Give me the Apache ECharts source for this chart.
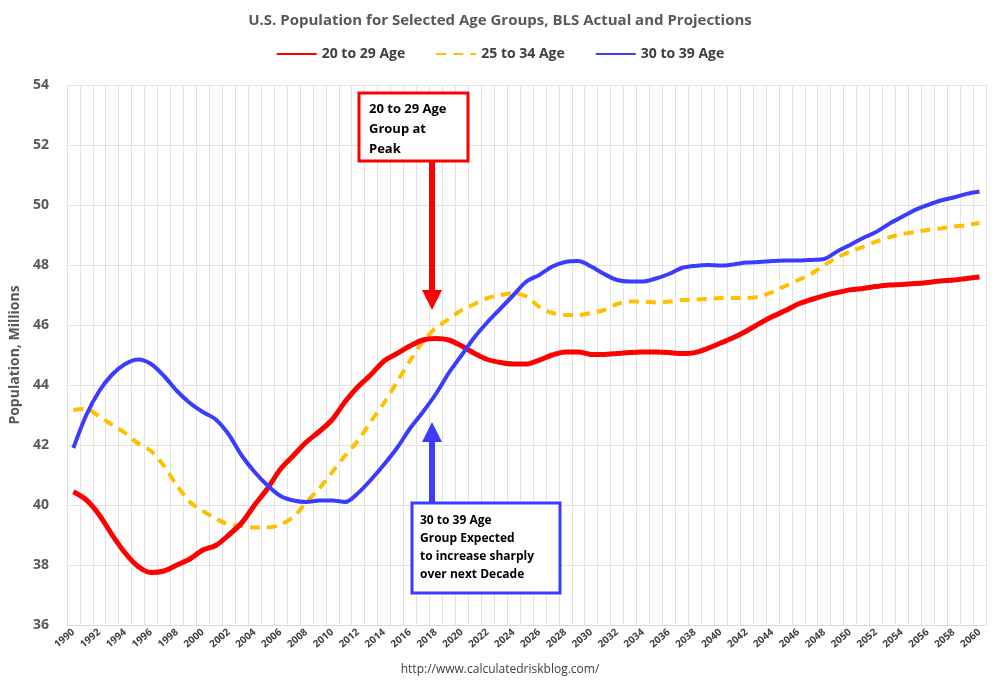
<!DOCTYPE html>
<html>
<head>
<meta charset="utf-8">
<script src="https://cdn.jsdelivr.net/npm/echarts@6/dist/echarts.min.js"></script>
<style>html,body{margin:0;padding:0;background:#fff}#chart{width:1000px;height:690px}</style>
</head>
<body>
<div id="chart"></div>
<script>
var years = [];
for (var y = 1990; y <= 2060; y++) years.push(String(y));

var age20to29 = [40.44,40.17,39.67,39.0,38.4,37.95,37.75,37.8,38.0,38.2,38.5,38.65,39.0,39.4,40.0,40.55,41.2,41.65,42.1,42.45,42.85,43.45,43.95,44.35,44.8,45.05,45.3,45.5,45.55,45.5,45.3,45.05,44.85,44.75,44.7,
  44.7,44.83,45.0,45.1,45.1,45.02,45.02,45.05,45.08,45.1,45.1,45.08,45.05,45.08,45.22,45.4,45.58,45.8,46.05,46.28,46.48,46.7,46.85,46.98,47.08,47.17,47.22,47.28,47.33,47.35,47.38,47.42,47.47,47.5,47.55,47.6];
var age25to34 = [43.17,43.2,42.95,42.67,42.4,42.05,41.8,41.3,40.65,40.1,39.8,39.55,39.35,39.3,39.25,39.25,39.35,39.6,40.1,40.55,41.1,41.65,42.15,42.8,43.4,44.1,44.8,45.45,45.9,46.2,46.5,46.7,46.9,47.0,47.05,
  46.95,46.6,46.4,46.33,46.33,46.4,46.5,46.7,46.78,46.78,46.75,46.78,46.83,46.85,46.87,46.9,46.9,46.9,46.95,47.1,47.3,47.5,47.7,48.0,48.25,48.45,48.6,48.78,48.92,49.03,49.1,49.17,49.22,49.28,49.33,49.4];
var age30to39 = [41.9,43.0,43.8,44.35,44.7,44.85,44.7,44.3,43.8,43.4,43.1,42.85,42.35,41.65,41.1,40.65,40.3,40.15,40.1,40.15,40.15,40.1,40.4,40.85,41.35,41.9,42.55,43.1,43.7,44.4,45.0,45.6,46.1,46.55,47.0,
  47.45,47.67,47.95,48.1,48.13,47.95,47.7,47.5,47.45,47.45,47.55,47.7,47.9,47.97,48.0,47.98,48.02,48.08,48.1,48.13,48.15,48.15,48.17,48.2,48.45,48.67,48.9,49.1,49.37,49.6,49.83,50.0,50.15,50.25,50.37,50.45];

var font = '"Open Sans", sans-serif';
var chart = echarts.init(document.getElementById('chart'));
chart.setOption({
  animation: false,
  title: {
    text: 'U.S. Population for Selected Age Groups, BLS Actual and Projections',
    left: 'center', top: 8,
    textStyle: {fontFamily: font, fontSize: 15, fontWeight: 'bold', color: '#595959'}
  },
  legend: {
    top: 42, left: 'center', itemWidth: 40, itemHeight: 4, itemGap: 30,
    itemStyle: {opacity: 0},
    textStyle: {fontFamily: font, fontSize: 14, fontWeight: 'bold', color: '#404040'},
    data: ['20 to 29 Age', '25 to 34 Age', '30 to 39 Age']
  },
  grid: {left: 65, right: 14, top: 85, bottom: 65},
  xAxis: {
    type: 'category', data: years, boundaryGap: true,
    axisLine: {lineStyle: {color: '#d9d9d9'}},
    axisTick: {show: false},
    splitLine: {show: true, interval: 0, lineStyle: {color: '#e3e3e3'}},
    axisLabel: {interval: 1, rotate: 40, fontFamily: font, fontSize: 10, fontWeight: 'bold', color: '#404040', margin: 6}
  },
  yAxis: {
    type: 'value', min: 36, max: 54, interval: 2,
    name: 'Population, Millions', nameLocation: 'middle', nameGap: 40,
    nameTextStyle: {fontFamily: font, fontSize: 14, fontWeight: 'bold', color: '#595959'},
    axisLabel: {fontFamily: font, fontSize: 14, fontWeight: 'bold', color: '#595959', margin: 18},
    splitLine: {lineStyle: {color: '#e3e3e3'}}
  },
  series: [
    {name: '20 to 29 Age', type: 'line', data: age20to29, smooth: 0.3, symbol: 'none', z: 3,
     lineStyle: {width: 5, color: '#ff0000'}, itemStyle: {color: '#ff0000'}},
    {name: '25 to 34 Age', type: 'line', data: age25to34, smooth: 0.3, symbol: 'none', z: 2,
     lineStyle: {width: 4, color: '#ffc000', type: [10, 7]}, itemStyle: {color: '#ffc000'}},
    {name: '30 to 39 Age', type: 'line', data: age30to39, smooth: 0.3, symbol: 'none', z: 4,
     lineStyle: {width: 4, color: '#3c3cff'}, itemStyle: {color: '#3c3cff'}}
  ],
  graphic: [
    {type: 'rect', shape: {x: 359, y: 93, width: 109, height: 68}, style: {fill: '#fff', stroke: '#ff0000', lineWidth: 3}, z: 10},
    {type: 'text', left: 369, top: 99, z: 11, style: {text: '20 to 29 Age\nGroup at\nPeak', font: 'bold 13px "Open Sans", sans-serif', fill: '#000', lineHeight: 20}},
    {type: 'rect', shape: {x: 429, y: 162, width: 6, height: 130}, style: {fill: '#ff0000'}, z: 10},
    {type: 'polygon', shape: {points: [[422, 290], [442, 290], [432, 310]]}, style: {fill: '#ff0000'}, z: 10},
    {type: 'rect', shape: {x: 412, y: 503, width: 148, height: 90}, style: {fill: '#fff', stroke: '#3c3cff', lineWidth: 3}, z: 10},
    {type: 'text', left: 420, top: 512, z: 11, style: {text: '30 to 39 Age\nGroup Expected\nto increase sharply\nover next Decade', font: 'bold 12px "Open Sans", sans-serif', fill: '#000', lineHeight: 18}},
    {type: 'rect', shape: {x: 429, y: 440, width: 6, height: 63}, style: {fill: '#3c3cff'}, z: 10},
    {type: 'polygon', shape: {points: [[422, 442], [442, 442], [432, 422]]}, style: {fill: '#3c3cff'}, z: 10},
    {type: 'text', left: 'center', top: 664, style: {text: 'http://www.calculatedriskblog.com/', font: '12px "Open Sans", sans-serif', fill: '#404040'}}
  ]
});
</script>
</body>
</html>
